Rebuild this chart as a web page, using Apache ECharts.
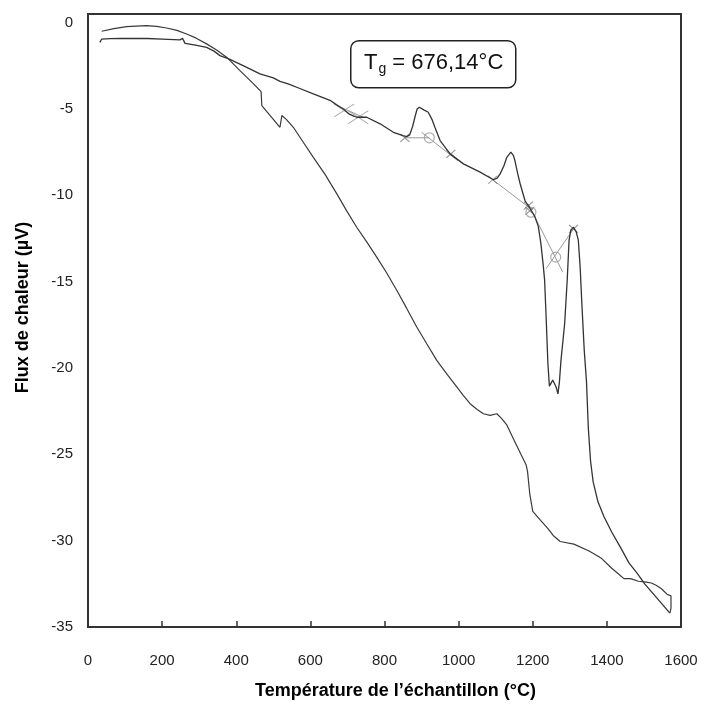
<!DOCTYPE html>
<html><head><meta charset="utf-8">
<script src="https://cdn.jsdelivr.net/npm/echarts@6/dist/echarts.min.js"></script>
<style>html,body{margin:0;padding:0;background:#fff}#c{width:705px;height:705px}</style>
</head><body><div id="c"></div>
<script>
// Heating curve (with Tg and crystallisation / melting events) [T °C, flux µV]
var heating = [[32,-1.14],[37,-0.95],[60,-0.93],[90,-0.92],[122,-0.91],[160,-0.92],[200,-0.95],[248,-1.0],[255,-0.91],[262,-1.2],[290,-1.3],[320,-1.43],[340,-1.65],[356,-1.91],[380,-2.1],[420,-2.5],[464,-2.97],[500,-3.2],[518,-3.4],[540,-3.55],[570,-3.8],[608,-4.13],[653,-4.5],[670,-4.75],[689,-5.0],[705,-5.3],[725,-5.48],[752,-5.48],[788,-5.86],[824,-6.35],[850,-6.55],[860,-6.6],[868,-6.5],[876,-6.0],[882,-5.48],[888,-5.0],[894,-4.9],[906,-5.05],[918,-5.19],[928,-5.6],[936,-6.06],[950,-6.83],[977,-7.6],[1013,-8.18],[1058,-8.66],[1094,-9.1],[1104,-9.0],[1112,-8.76],[1122,-8.3],[1130,-7.8],[1141,-7.5],[1148,-7.7],[1152,-8.0],[1160,-8.8],[1166,-9.33],[1179,-10.3],[1193,-10.78],[1205,-11.2],[1215,-11.8],[1222,-12.8],[1228,-14.0],[1232,-14.9],[1236,-17.0],[1241,-19.8],[1245,-21.05],[1250,-21.1],[1254,-20.7],[1257,-20.7],[1263,-21.1],[1268,-21.5],[1272,-20.8],[1276,-19.6],[1286,-17.45],[1293,-14.9],[1298,-12.6],[1303,-12.0],[1310,-11.85],[1317,-12.1],[1323,-12.6],[1328,-14.2],[1333,-16.5],[1339,-19.0],[1345,-20.8],[1350,-23.5],[1356,-25.4],[1363,-26.6],[1376,-27.75],[1392,-28.6],[1413,-29.5],[1437,-30.4],[1460,-31.3],[1482,-31.9],[1502,-32.5],[1534,-33.3],[1570,-34.2]];
// Cooling curve, from the maximum temperature back down
var cooling = [[1570,-34.2],[1573,-33.9],[1573,-33.2],[1562,-33.1],[1548,-32.8],[1534,-32.6],[1520,-32.45],[1506,-32.4],[1485,-32.35],[1464,-32.2],[1446,-32.2],[1430,-31.9],[1413,-31.6],[1384,-31.0],[1352,-30.6],[1311,-30.2],[1274,-30.05],[1255,-29.7],[1241,-29.3],[1220,-28.8],[1200,-28.3],[1192,-27.3],[1186,-26.0],[1182,-25.6],[1168,-25.0],[1150,-24.2],[1130,-23.3],[1115,-22.9],[1103,-22.65],[1085,-22.74],[1067,-22.65],[1050,-22.4],[1031,-22.07],[1013,-21.6],[995,-21.1],[970,-20.4],[941,-19.56],[914,-18.6],[887,-17.63],[860,-16.55],[833,-15.5],[806,-14.5],[779,-13.58],[752,-12.7],[725,-11.85],[698,-10.9],[671,-9.9],[640,-8.8],[608,-7.8],[580,-6.9],[554,-6.06],[535,-5.6],[523,-5.38],[518,-6.06],[469,-4.8],[467,-4.0],[446,-3.53],[410,-2.78],[374,-2.0],[348,-1.6],[320,-1.23],[292,-0.9],[266,-0.66],[240,-0.45],[212,-0.31],[185,-0.22],[158,-0.17],[130,-0.2],[104,-0.23],[70,-0.35],[37,-0.5]];
// Tangent construction lines (grey)
var tangentA = [[855,-6.67],[921,-6.67]];
var tangentB = [[900,-6.35],[998,-8.0]];
var tangentC = [[1092,-9.1],[1193,-10.75]];
var tangentD = [[1188,-10.5],[1281,-14.45]];
var tangentE = [[1236,-14.25],[1310,-11.94]];
var tgTangent = [[676,-4.85],[745,-5.5]];
// Construction markers
var tgCrosses = [[691,-5.09],[729,-5.48]];
var smallCrosses = [[855,-6.67],[979,-7.6],[1092,-9.1],[1188,-10.6],[1192,-10.9],[1310,-11.94]];
var circles = [[921,-6.67],[1195,-10.98],[1262,-13.58]];
// Axis ticks
var xTicks = [0,200,400,600,800,1000,1200,1400,1600];
var yTicks = [0,-5,-10,-15,-20,-25,-30,-35];
var annotation = '676,14°C';

var chart = echarts.init(document.getElementById('c'), null, {renderer:'canvas'});
var crossPath = 'path://M0,0L10,10M10,0L0,10';
var grey = '#9a9a9a';
function tline(d){return {type:'line',data:d,symbol:'none',silent:true,lineStyle:{color:grey,width:1},z:1};}
var option = {
  backgroundColor:'#fff',
  animation:false,
  grid:{left:88,right:24,top:14,bottom:77,show:true,borderColor:'#333',borderWidth:2,backgroundColor:'transparent'},
  xAxis:{type:'value',min:xTicks[0],max:xTicks[xTicks.length-1],interval:200,
    name:'Température de l’échantillon (°C)',nameLocation:'middle',nameGap:55,
    nameTextStyle:{fontFamily:'Liberation Sans',fontWeight:'bold',fontSize:18,color:'#000',padding:[0,0,0,22]},
    axisLine:{show:true,onZero:false,lineStyle:{color:'#333',width:2}},
    axisTick:{show:true,inside:true,length:6,lineStyle:{color:'#333',width:1.5}},
    axisLabel:{fontFamily:'Liberation Sans',fontSize:15,color:'#222',margin:26,
      formatter:function(v){return String(v);}},
    splitLine:{show:false}},
  yAxis:{type:'value',min:yTicks[yTicks.length-1],max:0.5,interval:5,
    name:'Flux de chaleur (µV)',nameLocation:'middle',nameGap:56,
    nameTextStyle:{fontFamily:'Liberation Sans',fontWeight:'bold',fontSize:18,color:'#000',padding:[0,0,0,26]},
    axisLine:{show:true,onZero:false,lineStyle:{color:'#333',width:2}},
    axisTick:{show:false},
    axisLabel:{fontFamily:'Liberation Sans',fontSize:15,color:'#222',margin:15,
      formatter:function(v){return yTicks.indexOf(v)>=0?String(v):'';}},
    splitLine:{show:false}},
  series:[
    tline(tgTangent),tline(tangentA),tline(tangentB),tline(tangentC),tline(tangentD),tline(tangentE),
    {type:'scatter',data:tgCrosses,symbol:crossPath,symbolSize:[20,13],silent:true,
      itemStyle:{color:'none',borderColor:grey,borderWidth:1.2},z:2},
    {type:'scatter',data:smallCrosses,symbol:crossPath,symbolSize:[9,8],silent:true,
      itemStyle:{color:'none',borderColor:'#777',borderWidth:1},z:2},
    {type:'scatter',data:circles,symbol:'circle',symbolSize:10,silent:true,
      itemStyle:{color:'none',borderColor:grey,borderWidth:1.2},z:2},
    {type:'line',data:heating,symbol:'none',silent:true,lineStyle:{color:'#333',width:1.3},z:3},
    {type:'line',data:cooling,symbol:'none',silent:true,lineStyle:{color:'#3a3a3a',width:1.2},z:3}
  ],
  graphic:[
    {type:'rect',left:350,top:40,shape:{width:165,height:47,r:8},
      style:{fill:'#fff',stroke:'#222',lineWidth:1.5},z:10},
    {type:'text',left:364,top:52,z:11,
      style:{text:'{t|T}{g|g}{t| = '+annotation+'}',
        rich:{t:{fontFamily:'Liberation Sans',fontSize:22,fill:'#111'},
              g:{fontFamily:'Liberation Sans',fontSize:14,fill:'#111',padding:[12,0,0,1]}}}}
  ]
};
chart.setOption(option);
</script></body></html>
